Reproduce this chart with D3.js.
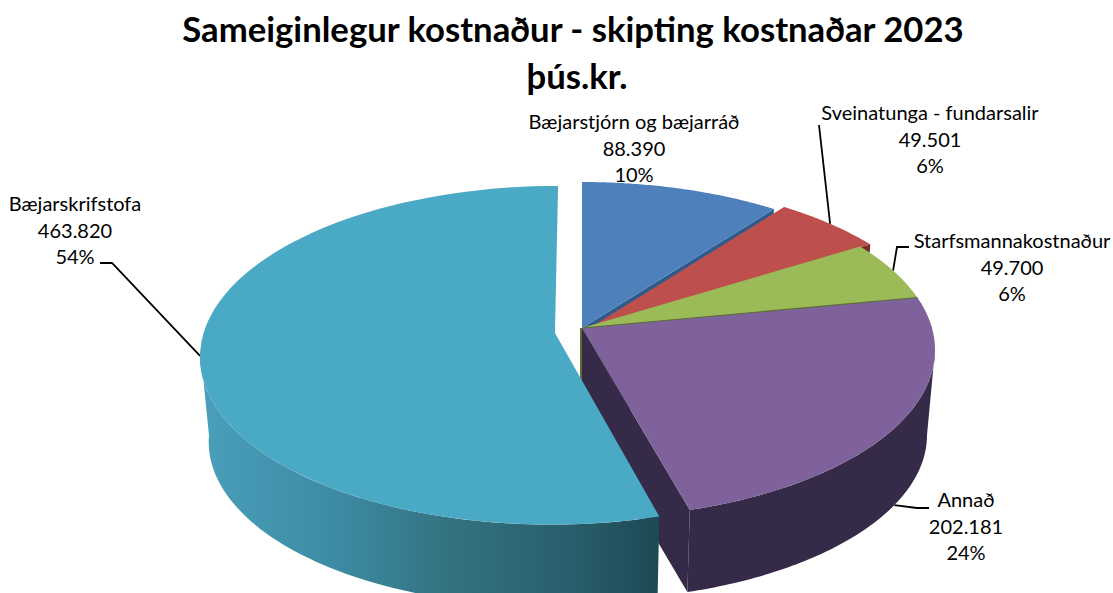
<!DOCTYPE html>
<html><head><meta charset="utf-8">
<script src="https://cdnjs.cloudflare.com/ajax/libs/d3/7.8.5/d3.min.js"></script>
<style>html,body{margin:0;padding:0;background:#fff;overflow:hidden}svg{display:block}text{font-family:Lato,"Noto Sans",sans-serif;fill:#000}</style>
</head><body><svg id="c" width="1113" height="593"></svg>
<script>
const titleLines = ["Sameiginlegur kostnaður - skipting kostnaðar 2023", "þús.kr."];
const categories = ["Bæjarstjórn og bæjarráð", "Sveinatunga - fundarsalir", "Starfsmannakostnaður", "Annað", "Bæjarskrifstofa"];
const values = [88390, 49501, 49700, 202181, 463820];
const percentLabels = ["10%", "6%", "6%", "24%", "54%"];
const valueLabels = ["88.390", "49.501", "49.700", "202.181", "463.820"];
const topColors = ["#4e80bb", "#bd4f4c", "#9bba58", "#7f619c", "#4aa9c4"];
const sideColors = ["#2f5a8c", "#772c2a", "#5c7033", "#352a47", "#2a6270"];

// layout
const cx = 582, topCy = 350, topRx = 353, topRy = 168;
const botCy = 435, botRx = 345, botRy = 165;
const tilt = 22 / 168;
// slice displacement on the pie's own plane (unit radius)
const shifts = [[0,0],[.033,.015],[0,0],[0,0],[-.077,-.03]];
// label anchor (centre x, first baseline y) and leader elbow paths
const labelAt = [[634,129],[930,120],[1012,248],[966,507],[75,211]];
const leaderStart = [null,[819,125],[909,247],[929,508],[100,263]];
const leaderElbow = [null,null,[897,247],[917,508],[112,263]];
const leaderOnBottom = [false,false,false,true,false];

const svg = d3.select("#c");
const topL = {x:d3.scaleLinear().domain([-1,1]).range([cx-topRx,cx+topRx]), y:d3.scaleLinear().domain([-1,1]).range([topCy+topRy,topCy-topRy])};
const botL = {x:d3.scaleLinear().domain([-1,1]).range([cx-botRx,cx+botRx]), y:d3.scaleLinear().domain([-1,1]).range([botCy+botRy,botCy-botRy])};

// perspective map of a point of the pie's plane onto the picture's ellipse
function proj(layer, u, v, s){
  const uu = u + s[0], vv = v + s[1], d = 1 + tilt * vv;
  return [layer.x(uu * Math.sqrt(1 - tilt*tilt) / d), layer.y((vv + tilt) / d)];
}
const rimPt = (layer, a, s) => proj(layer, Math.sin(a), Math.cos(a), s);
const apex = (layer, s) => proj(layer, 0, 0, s);
const rim = (layer, a0, a1, s) => d3.range(0, 81).map(i => rimPt(layer, a0 + (a1-a0)*i/80, s));
const line = d3.line();

const slices = d3.pie().sort(null)(values).map((d,i)=>({...d,i,s:shifts[i]}));

const defs = svg.append("defs");
const grad = defs.append("linearGradient").attr("id","tealWall").attr("gradientUnits","userSpaceOnUse")
  .attr("x1",200).attr("x2",656).attr("y1",0).attr("y2",0);
[[0,"#4a9fba"],[.3,"#3c8ba3"],[.55,"#33727f"],[.8,"#2a5f6d"],[1,"#1c4a55"]].forEach(g=>grad.append("stop").attr("offset",g[0]).attr("stop-color",g[1]));

// leaders sit behind the pie so their ends stop at its outline
const leaders = svg.append("g");
const g = svg.append("g");
function drawCut(d, a){
  g.append("path").attr("d", line([apex(topL,d.s), rimPt(topL,a,d.s), rimPt(botL,a,d.s), apex(botL,d.s)])+"Z")
    .attr("fill", sideColors[d.i]);
}
function drawWall(d, a0, a1, fill){
  g.append("path").attr("d", line(rim(topL,a0,a1,d.s).concat(rim(botL,a0,a1,d.s).reverse()))+"Z").attr("fill",fill);
}
function drawTop(d){
  g.append("path").attr("d", line([apex(topL,d.s)].concat(rim(topL,d.startAngle,d.endAngle,d.s)))+"Z")
    .attr("fill", topColors[d.i]);
}
// back slices: only the end cuts show
[slices[0],slices[1],slices[2]].forEach(d=>drawCut(d,d.endAngle));
[slices[0],slices[1],slices[2]].forEach(drawTop);
// front right slice
const pur = slices[3];
const rightExt = Math.acos(-tilt);
drawCut(pur,pur.endAngle);
drawWall(pur,rightExt,pur.endAngle,sideColors[3]);
drawTop(pur);
// thin olive edges of the green slice
const grn = slices[2];
g.append("path").attr("d", line([apex(topL,grn.s), rimPt(topL,grn.endAngle,grn.s)]))
  .attr("fill","none").attr("stroke",sideColors[2]).attr("stroke-width",1.1);
const ap = apex(topL,grn.s), apB = apex(botL,grn.s);
g.append("path").attr("d", line([ap,[ap[0],apB[1]]])).attr("transform","translate(-1,0)")
  .attr("fill","none").attr("stroke",sideColors[2]).attr("stroke-width",2);
// exploded slice
const tea = slices[4];
const leftExt = 2*Math.PI - Math.acos(-tilt - tea.s[1]);
drawWall(tea,tea.startAngle,leftExt,"url(#tealWall)");
drawTop(tea);

// leaders
slices.forEach((d,i)=>{
  if(!leaderStart[i]) return;
  const mid=(d.startAngle+d.endAngle)/2;
  const end=rimPt(leaderOnBottom[i]?botL:topL,mid,d.s);
  const pts=[leaderStart[i]]; if(leaderElbow[i]) pts.push(leaderElbow[i]); pts.push(end);
  leaders.append("path").attr("d",line(pts)).attr("fill","none").attr("stroke","#000").attr("stroke-width",1.8);
});

// labels
categories.forEach((c,i)=>{
  const t=svg.append("text").attr("text-anchor","middle").attr("font-size",20);
  [c,valueLabels[i],percentLabels[i]].forEach((s,j)=>{
    t.append("tspan").attr("x",labelAt[i][0]).attr("y",labelAt[i][1]+j*26.5).text(s);
  });
});
// title
titleLines.forEach((s,i)=>{
  svg.append("text").attr("x",i?577:573).attr("y",42+i*47).attr("text-anchor","middle")
    .attr("font-size",34.7).attr("font-weight",700).text(s);
});
</script></body></html>
